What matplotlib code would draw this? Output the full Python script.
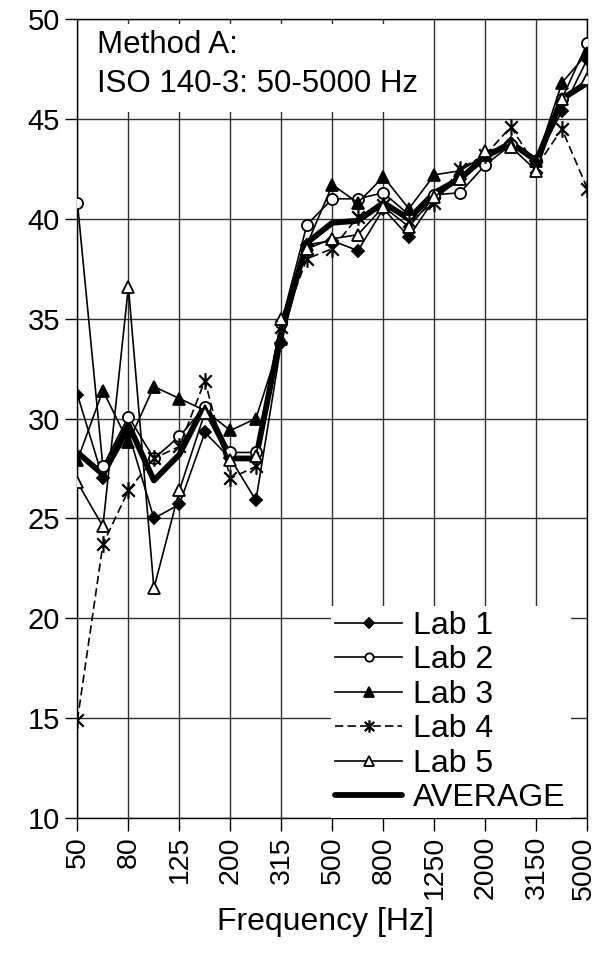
import matplotlib
matplotlib.use("Agg")
import matplotlib.pyplot as plt
import matplotlib.transforms as mtransforms
from matplotlib.path import Path
from matplotlib.patches import Rectangle

plt.rcParams['font.family'] = ['Liberation Sans', 'DejaVu Sans']

freqs = ["50", "63", "80", "100", "125", "160", "200", "250", "315", "400", "500",
         "630", "800", "1000", "1250", "1600", "2000", "2500", "3150", "4000", "5000"]

lab1 = [31.2, 27.0, 29.3, 25.0, 25.7, 29.3, 28.0, 25.9, 33.8, 38.7, 38.9,
        38.4, 40.5, 39.1, 41.0, 42.0, 43.0, 43.8, 42.9, 45.4, 48.0]
lab2 = [40.8, 27.6, 30.1, 28.0, 29.1, 30.6, 28.3, 28.3, 34.8, 39.7, 41.0,
        41.0, 41.3, 40.2, 41.2, 41.3, 42.7, 43.7, 42.9, 46.0, 48.8]
lab3 = [27.9, 31.4, 28.8, 31.6, 31.0, 30.4, 29.4, 30.0, 34.0, 38.7, 41.7,
        40.8, 42.1, 40.5, 42.2, 42.4, 43.2, 43.7, 42.9, 46.8, 48.3]
lab4 = [14.9, 23.7, 26.4, 28.0, 28.6, 31.9, 27.0, 27.6, 34.6, 38.0, 38.5,
        40.1, 40.7, 39.9, 40.8, 42.5, 43.2, 44.6, 42.6, 44.5, 41.5]
lab5 = [26.8, 24.6, 36.6, 21.5, 26.4, 30.3, 27.9, 28.1, 35.0, 38.5, 39.0,
        39.2, 40.6, 39.6, 41.1, 42.0, 43.4, 43.6, 42.4, 46.0, 47.0]
average = [28.3, 27.2, 29.7, 26.9, 28.2, 30.7, 28.0, 28.0, 34.4, 38.8, 39.8,
           39.9, 40.8, 40.0, 41.3, 42.0, 43.1, 43.8, 42.9, 46.0, 46.8]

tick_labels = ["50", "80", "125", "200", "315", "500", "800", "1250", "2000", "3150", "5000"]

W, H = 598, 956
fig = plt.figure(figsize=(W / 100, H / 100), dpi=100)
L, R, T, B = 77.4, 587.4, 19.0, 818.0
ax = fig.add_axes([L / W, 1 - B / H, (R - L) / W, (B - T) / H])

x = list(range(len(freqs)))

ast = Path([(0, 1), (0, -1), (-0.75, 0.75), (0.75, -0.75), (-0.75, -0.75), (0.75, 0.75)],
           [Path.MOVETO, Path.LINETO, Path.MOVETO, Path.LINETO, Path.MOVETO, Path.LINETO])

lw = 1.2
mew = 1.3
h_avg, = ax.plot(x, average, color='black', lw=4.2, solid_capstyle='round',
                 solid_joinstyle='round', zorder=2, label='AVERAGE')
h1, = ax.plot(x, lab1, color='black', lw=lw, marker='D', ms=6.5, mfc='black',
              mec='black', mew=mew, zorder=3, label='Lab 1')
h2, = ax.plot(x, lab2, color='black', lw=lw, marker='o', ms=8, mfc='white',
              mec='black', mew=mew, zorder=3, label='Lab 2')
h3, = ax.plot(x, lab3, color='black', lw=lw, marker='^', ms=9, mfc='black',
              mec='black', mew=mew, zorder=3, label='Lab 3')
h4, = ax.plot(x, lab4, color='black', lw=lw, ls=(0, (5, 2.5)), marker=ast, ms=12,
              mec='black', mew=1.6, zorder=3, label='Lab 4')
h5, = ax.plot(x, lab5, color='black', lw=lw, marker='^', ms=9, mfc='white',
              mec='black', mew=mew, zorder=3, label='Lab 5')

ax.set_xlim(0, len(freqs) - 1)
ax.set_ylim(10, 50)
ax.set_yticks(range(10, 51, 5))
tick_pos = [freqs.index(t) for t in tick_labels]
ax.set_xticks(tick_pos)
ax.set_xticklabels(tick_labels, rotation=90)
ax.tick_params(axis='both', direction='out', length=9, width=1, color='black')
ax.tick_params(axis='y', labelsize=21)
ax.tick_params(axis='x', labelsize=20.5, pad=4)
# nudge the last tick label so it stays inside the canvas
last = ax.get_xticklabels()[-1]
last.set_transform(last.get_transform() +
                   mtransforms.ScaledTranslation(-4 / 100, 0, fig.dpi_scale_trans))
ax.set_axisbelow(True)
ax.grid(True, color='#303030', lw=1.0)
for s in ax.spines.values():
    s.set_color('black')
    s.set_linewidth(1.0)
fig.text(325 / W, 1 - 922 / H, "Frequency [Hz]", fontsize=23, ha='center', va='center')

# white panel behind the description text
aw, ah = R - L, B - T
ax.add_patch(Rectangle(((82 - L) / aw, 1 - (112 - T) / ah), (425 - 82) / aw, (112 - 24) / ah,
                       transform=ax.transAxes, facecolor='white', edgecolor='none', zorder=1))
ax.text((97 - L) / aw, 1 - (45 - T) / ah, "Method A:", transform=ax.transAxes,
        fontsize=22.5, va='center', ha='left', zorder=4)
ax.text((97 - L) / aw, 1 - (84 - T) / ah, "ISO 140-3: 50-5000 Hz", transform=ax.transAxes,
        fontsize=22.5, va='center', ha='left', zorder=4)

leg = ax.legend(handles=[h1, h2, h3, h4, h5, h_avg], loc='lower right',
                bbox_to_anchor=(0.967, 0.0), borderaxespad=0, fontsize=23,
                frameon=True, fancybox=False, framealpha=1, facecolor='white',
                edgecolor='none', handlelength=2.1, handletextpad=0.34,
                labelspacing=0.14, borderpad=0.15, markerscale=0.75)
leg.set_zorder(5)

fig.savefig("out.png", dpi=100)
